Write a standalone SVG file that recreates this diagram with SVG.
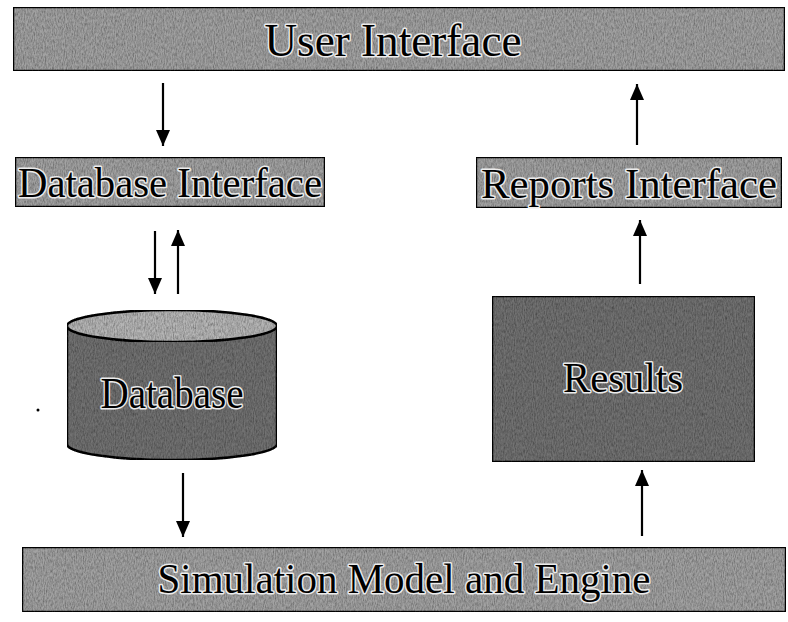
<svg xmlns="http://www.w3.org/2000/svg" width="788" height="622" viewBox="0 0 788 622">
  <style>
    .bar { fill: #a2a2a2; stroke: #111; stroke-width: 2.5; }
    .dark { fill: #727272; stroke: #111; stroke-width: 2.5; }
    .lbl { font-family: "Liberation Serif", "Times New Roman", serif; fill: #000; stroke: #ececec; stroke-width: 3; paint-order: stroke; stroke-linejoin: round; text-anchor: middle; }
    .arr { stroke: #000; stroke-width: 2.2; fill: none; marker-end: url(#head); }
  </style>
  <defs>
    <marker id="head" viewBox="0 0 16 14" refX="16" refY="7" markerWidth="16" markerHeight="14" markerUnits="userSpaceOnUse" orient="auto">
      <path d="M0,0 L16,7 L0,14 z" fill="#000"/>
    </marker>
    <!-- grainy stone texture laid over the grey fills -->
    <filter id="grain" x="0" y="0" width="100%" height="100%">
      <feTurbulence type="fractalNoise" baseFrequency="0.9 0.3" numOctaves="3" seed="4" result="n"/>
      <feColorMatrix in="n" type="matrix" values="0 0 0 0 0  0 0 0 0 0  0 0 0 0 0  1 0 0 0 -0.3" result="dots"/>
      <feComposite in="dots" in2="SourceGraphic" operator="in" result="d"/>
      <feMerge><feMergeNode in="SourceGraphic"/><feMergeNode in="d"/></feMerge>
    </filter>
  </defs>

  <g id="user-interface">
    <rect class="bar" x="13" y="7" width="772" height="64" filter="url(#grain)"/>
    <text class="lbl" x="393" y="56" font-size="46" textLength="257" lengthAdjust="spacingAndGlyphs">User Interface</text>
  </g>

  <g id="database-interface">
    <rect class="bar" x="15" y="157" width="310" height="50" filter="url(#grain)"/>
    <text class="lbl" x="170" y="197" font-size="42" textLength="304" lengthAdjust="spacingAndGlyphs">Database Interface</text>
  </g>

  <g id="reports-interface">
    <rect class="bar" x="476" y="157" width="306" height="51" filter="url(#grain)"/>
    <text class="lbl" x="629" y="198" font-size="42" textLength="296" lengthAdjust="spacingAndGlyphs">Reports Interface</text>
  </g>

  <g id="database">
    <path class="dark" d="M67,326 L67,444 A105,16 0 0 0 277,444 L277,326" filter="url(#grain)"/>
    <ellipse cx="172" cy="326" rx="105" ry="16" fill="#b6b6b6" stroke="#111" stroke-width="2.5" filter="url(#grain)"/>
    <text class="lbl" x="172" y="408" font-size="44" textLength="143" lengthAdjust="spacingAndGlyphs">Database</text>
  </g>

  <g id="results">
    <rect class="dark" x="492" y="296" width="263" height="166" filter="url(#grain)"/>
    <text class="lbl" x="623" y="392" font-size="42" textLength="120" lengthAdjust="spacingAndGlyphs">Results</text>
  </g>

  <g id="simulation-engine">
    <rect class="bar" x="22" y="547" width="764" height="65" filter="url(#grain)"/>
    <text class="lbl" x="404" y="593" font-size="42" textLength="493" lengthAdjust="spacingAndGlyphs">Simulation Model and Engine</text>
  </g>

  <g id="connectors">
    <line class="arr" x1="163" y1="83" x2="163" y2="146"/>
    <line class="arr" x1="637" y1="145" x2="637" y2="84"/>
    <line class="arr" x1="155" y1="231" x2="155" y2="294"/>
    <line class="arr" x1="178" y1="294" x2="178" y2="230"/>
    <line class="arr" x1="640" y1="284" x2="640" y2="220"/>
    <line class="arr" x1="183" y1="473" x2="183" y2="537"/>
    <line class="arr" x1="642" y1="536" x2="642" y2="470"/>
  </g>

  <circle cx="38" cy="410" r="1.5" fill="#000"/>
</svg>
